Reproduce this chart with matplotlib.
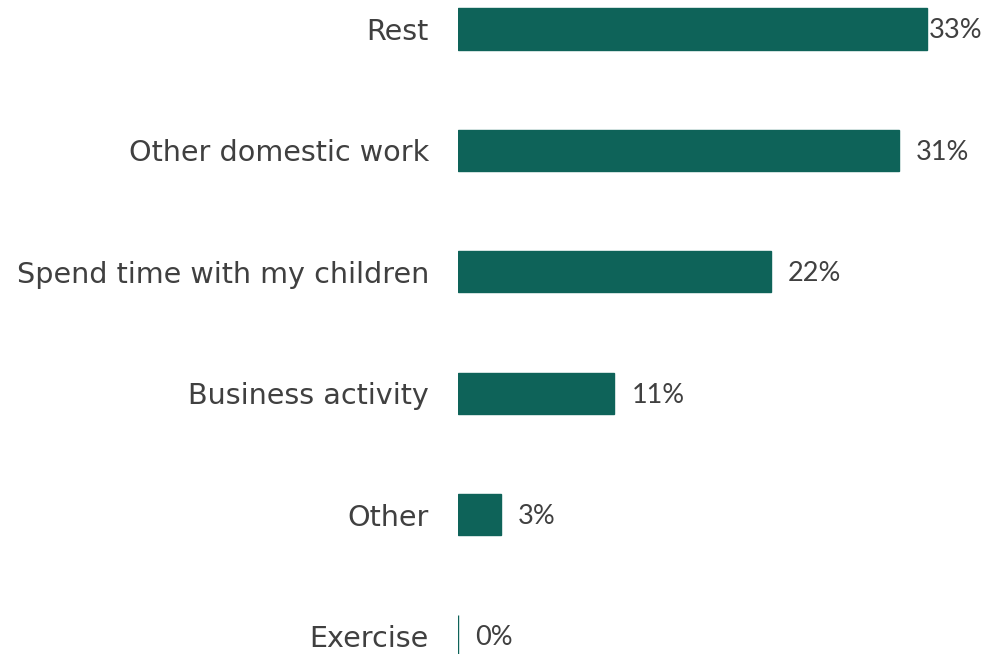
import matplotlib
matplotlib.use("Agg")
import matplotlib.pyplot as plt

categories = ["Rest", "Other domestic work", "Spend time with my children",
              "Business activity", "Other", "Exercise"]
values = [33, 31, 22, 11, 3, 0]
value_labels = ["33%", "31%", "22%", "11%", "3%", "0%"]

bar_color = "#0E6359"
text_color = "#404040"

fig = plt.figure(figsize=(9.81, 6.54), dpi=100)
ax = fig.add_axes([458 / 981, 0, 1 - 458 / 981, 1])

ypos = list(range(len(categories)))
ax.barh(ypos, values, height=0.34, color=bar_color,
        edgecolor=bar_color, linewidth=1.0)

xmax = 36.8
ax.set_xlim(0, xmax)
ax.set_ylim(5.148, -0.239)

ax.set_yticks(ypos)
ax.set_yticklabels(categories, fontsize=20.6, color=text_color,
                   family="DejaVu Sans")
ax.tick_params(axis="y", length=0, pad=21)
ax.set_xticks([])
for s in ax.spines.values():
    s.set_visible(False)

# value labels sit just past the bar end, kept inside the right edge
for y, v, lab in zip(ypos, values, value_labels):
    x = min(v + 1.2, xmax - 3.7)
    ax.text(x, y + 0.015, lab, va="center", ha="left", fontsize=19.5,
            color=text_color, family="Lato")

fig.savefig("out.png", dpi=100)
